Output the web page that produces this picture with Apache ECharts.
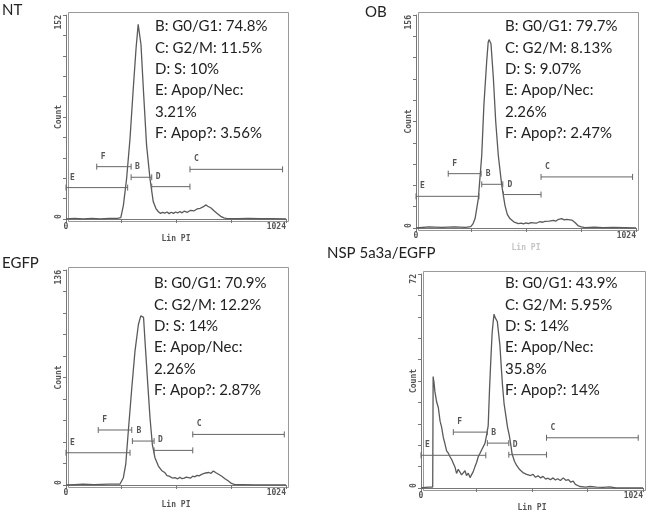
<!DOCTYPE html>
<html><head><meta charset="utf-8">
<script src="https://cdn.jsdelivr.net/npm/echarts@6/dist/echarts.min.js"></script>
<style>html,body{margin:0;padding:0;background:#fff}#c{width:660px;height:521px}</style>
</head><body><div id="c"></div>
<script>
// ---- data ----
const panelTitles = ['NT', 'OB', 'EGFP', 'NSP 5a3a/EGFP'];
const yMaxLabels = [152, 156, 136, 72];
const xTickLabels = [0, 1024];

const ntCounts = [[0,0],[40,0.5],[80,0],[120,0.5],[160,0],[200,0.5],[240,0.5],[255,1],[267,10],[282,30],[298,60],[313,97],[326,127],[336,145],[340,144],[349,130],[360,97],[375,55],[391,30],[406,13],[418,8],[430,5.4],[440,4.2],[450,5],[460,4.4],[470,5.2],[480,4],[490,5],[500,4.2],[510,5.2],[520,4.5],[530,5.6],[540,4.6],[550,5.8],[565,5],[580,6.5],[595,6],[610,7.5],[625,8],[640,9.2],[650,10.5],[660,9.5],[675,8.2],[690,6],[705,4],[720,2],[735,0.8],[750,0.3],[800,0.2],[850,0.5],[900,0.2],[960,0.3],[1024,0]];
const obCounts = [[0,0],[60,0.8],[120,0.5],[180,0.8],[230,0.5],[255,1],[265,3],[275,6.9],[290,21.3],[306,53.3],[316,90],[329,122],[336,136],[340,138],[345,137],[349,135],[360,110],[371,78],[383,53.3],[399,31.4],[414,16.6],[425,10],[437,6.9],[455,4.5],[476,3.2],[490,3.6],[500,3],[512,3.8],[523,3.2],[535,4],[545,3.8],[560,3.5],[575,4.6],[590,4.2],[600,4.9],[620,5.1],[640,5.6],[650,5],[660,6.1],[678,6.9],[690,6],[700,6.3],[725,5.8],[740,4],[756,1.5],[770,0.8],[786,0.3],[830,0.6],[870,0.3],[920,0.5],[1024,0]];
const egfpCounts = [[0,0],[40,0.3],[80,0.5],[130,0.3],[200,0.5],[251,0.5],[267,4.6],[278,13],[290,34],[306,61],[321,84.5],[337,101.5],[348,107],[355,108],[361,106],[368,90.5],[381,63],[391,42.5],[402,25.5],[414,17.3],[430,12],[445,9.2],[461,7.7],[470,6],[480,5.6],[495,4.4],[507,4.6],[520,3.9],[530,4.9],[540,4],[550,4.4],[560,5],[569,4.9],[580,4.4],[590,5.6],[600,5.2],[610,6.1],[620,5.8],[631,6.7],[640,6.4],[650,7.6],[665,7.9],[675,7.4],[686,8.9],[700,7.6],[712,6.6],[725,5.5],[740,4],[756,2.5],[770,1],[786,0.3],[820,0.2],[880,0],[1024,0]];
const nspCounts = [[0,0],[20,0.2],[40,0.3],[54,0.3],[56,37.5],[60,35.5],[64,32.5],[72,29],[80,27],[88,22.5],[95,20.5],[103,17],[110,15],[118,12.5],[126,11.7],[134,10.5],[142,9.5],[149,9.4],[157,7],[164,4.9],[172,6.3],[180,6],[187,4.4],[195,4.4],[203,5.8],[210,4.2],[218,5],[226,3.5],[233,3.3],[241,5.5],[249,7.2],[256,8.5],[264,10.5],[271,11.5],[279,12.7],[287,13],[295,15],[302,17.5],[310,21],[316,33],[322,43],[328,52],[333,56],[337,58.5],[341,57.5],[346,58],[352,56],[358,52],[364,48],[370,41],[376,34.5],[383,28.5],[391,24.5],[399,20.5],[407,17.8],[415,14.2],[420,11.5],[425,11.2],[431,9],[436,9.3],[442,7.5],[448,7.8],[455,6.2],[462,6.7],[470,5.2],[479,5.7],[487,4.6],[495,5.2],[505,4.2],[517,4.6],[528,3.6],[540,4.1],[552,3.4],[563,3.9],[575,3],[585,3.3],[597,2.8],[609,3.4],[620,2.7],[630,3.1],[643,2.5],[656,3.4],[668,2.6],[680,2.8],[690,2],[702,2.3],[712,1.2],[718,1],[732,0.5],[760,0.3],[780,0.5],[809,0.3],[840,0.2],[870,0.4],[900,0],[1024,0]];

// gates: [label, startChannel, endChannel, countLevel]
const ntGates = [['E',0,287,23.4],['F',143,303,39],['B',303,399,31.1],['D',399,577,24.1],['C',577,1008,37]];
const obGates = [['E',0,293,23.2],['F',150,303,39.8],['B',306,404,32],['D',407,582,24.5],['C',582,1008,37.4]];
const egfpGates = [['E',0,298,20.4],['F',150,306,34.8],['B',309,410,27.8],['D',410,590,21.9],['C',590,1016,32]];
const nspGates = [['E',0,299,11],['F',149,306,18.8],['B',306,405,15.1],['D',405,579,11.2],['C',579,1002,16.9]];

const ntStats = ['B: G0/G1: 74.8%','C: G2/M: 11.5%','D: S: 10%','E: Apop/Nec:','3.21%','F: Apop?: 3.56%'];
const obStats = ['B: G0/G1: 79.7%','C: G2/M: 8.13%','D: S: 9.07%','E: Apop/Nec:','2.26%','F: Apop?: 2.47%'];
const egfpStats = ['B: G0/G1: 70.9%','C: G2/M: 12.2%','D: S: 14%','E: Apop/Nec:','2.26%','F: Apop?: 2.87%'];
const nspStats = ['B: G0/G1: 43.9%','C: G2/M: 5.95%','D: S: 14%','E: Apop/Nec:','35.8%','F: Apop?: 14%'];

// ---- layout ----
const counts = [ntCounts, obCounts, egfpCounts, nspCounts];
const gates = [ntGates, obGates, egfpGates, nspGates];
const stats = [ntStats, obStats, egfpStats, nspStats];
const grids = [
  {left:66, top:15, width:220, height:204},
  {left:416, top:15, width:220, height:213},
  {left:66, top:270, width:220, height:215},
  {left:421, top:274, width:222, height:214}
];
const frameExtra = 5;
const titlePos = [[2,3],[365,5],[2,256],[327,246]];
const statPos = [[155,16],[505,16],[154,273],[505,273]];
const xNameColor = ['#555','#c4c4c4','#555','#555'];

const axisFont = '"DejaVu Sans Mono", monospace';
const lineCol = '#777';

const option = {
  animation:false,
  backgroundColor:'#fff',
  grid: grids.map(g => Object.assign({show:false}, g)),
  xAxis: grids.map((g,i) => ({
    gridIndex:i, type:'value', min:0, max:1024, interval:256,
    axisLine:{show:true, onZero:false, lineStyle:{color:lineCol}},
    axisTick:{show:true, length:4, lineStyle:{color:lineCol}},
    splitLine:{show:false},
    axisLabel:{fontFamily:axisFont, fontWeight:'bold', fontSize:8, color:'#555', margin:4,
      alignMaxLabel:'right',
      formatter: v => xTickLabels.indexOf(v) >= 0 ? String(v) : ''},
    name:'Lin PI', nameLocation:'middle', nameGap:16, nameMoveOverlap:false,
    nameTextStyle:{fontFamily:axisFont, fontWeight:'bold', fontSize:8, color:xNameColor[i]}
  })),
  yAxis: grids.map((g,i) => ({
    gridIndex:i, type:'value', min:0, max:yMaxLabels[i], interval:yMaxLabels[i]/10,
    axisLine:{show:true, lineStyle:{color:lineCol}},
    axisTick:{show:true, length:3, lineStyle:{color:lineCol}},
    splitLine:{show:false},
    axisLabel:{fontFamily:axisFont, fontWeight:'bold', fontSize:8, color:'#555', margin:3, rotate:90,
      alignMinLabel:'left', alignMaxLabel:'right',
      formatter: v => (Math.abs(v) < 1e-6 || Math.abs(v - yMaxLabels[i]) < 1e-6) ? String(Math.round(v)) : ''},
    name:'Count', nameLocation:'middle', nameGap:3, nameRotate:90, nameMoveOverlap:false,
    nameTextStyle:{fontFamily:axisFont, fontWeight:'bold', fontSize:8, color:'#555'}
  })),
  series: [],
  graphic: []
};

counts.forEach((d,i) => {
  const g = grids[i];
  option.graphic.push({type:'rect', left:g.left, top:g.top - frameExtra, silent:true, z:-1,
    shape:{width:g.width, height:g.height + frameExtra},
    style:{fill:'none', stroke:'#999', lineWidth:1}});
  option.series.push({
    type:'line', xAxisIndex:i, yAxisIndex:i, data:d, showSymbol:false, symbol:'none',
    lineStyle:{color:'#5a5a5a', width:1.3}, z:3
  });
  option.series.push({
    type:'custom', xAxisIndex:i, yAxisIndex:i, data:gates[i].map(gt => [gt[1], gt[2], gt[3]]),
    encode:{x:[0,1], y:2},
    renderItem: function(params, api){
      const p1 = api.coord([api.value(0), api.value(2)]);
      const p2 = api.coord([api.value(1), api.value(2)]);
      const label = gates[i][params.dataIndex][0];
      const st = {stroke:'#666', lineWidth:1};
      return {type:'group', children:[
        {type:'line', shape:{x1:p1[0], y1:p1[1], x2:p2[0], y2:p2[1]}, style:st},
        {type:'line', shape:{x1:p1[0], y1:p1[1]-3, x2:p1[0], y2:p1[1]+3}, style:st},
        {type:'line', shape:{x1:p2[0], y1:p2[1]-3, x2:p2[0], y2:p2[1]+3}, style:st},
        {type:'text', x:p1[0]+4, y:p1[1]-14, style:{text:label, fill:'#555', font:'bold 8px "DejaVu Sans Mono", monospace'}}
      ]};
    }, z:4
  });
  option.graphic.push({type:'text', left:titlePos[i][0], top:titlePos[i][1],
    style:{text:panelTitles[i], fill:'#222', font:'15px Lato, sans-serif'}});
  option.graphic.push({type:'text', left:statPos[i][0], top:statPos[i][1],
    style:{text:stats[i].join('\n'), fill:'#222', font:'15px Lato, sans-serif', lineHeight:21.3}});
});

const chart = echarts.init(document.getElementById('c'));
chart.setOption(option);
</script></body></html>
